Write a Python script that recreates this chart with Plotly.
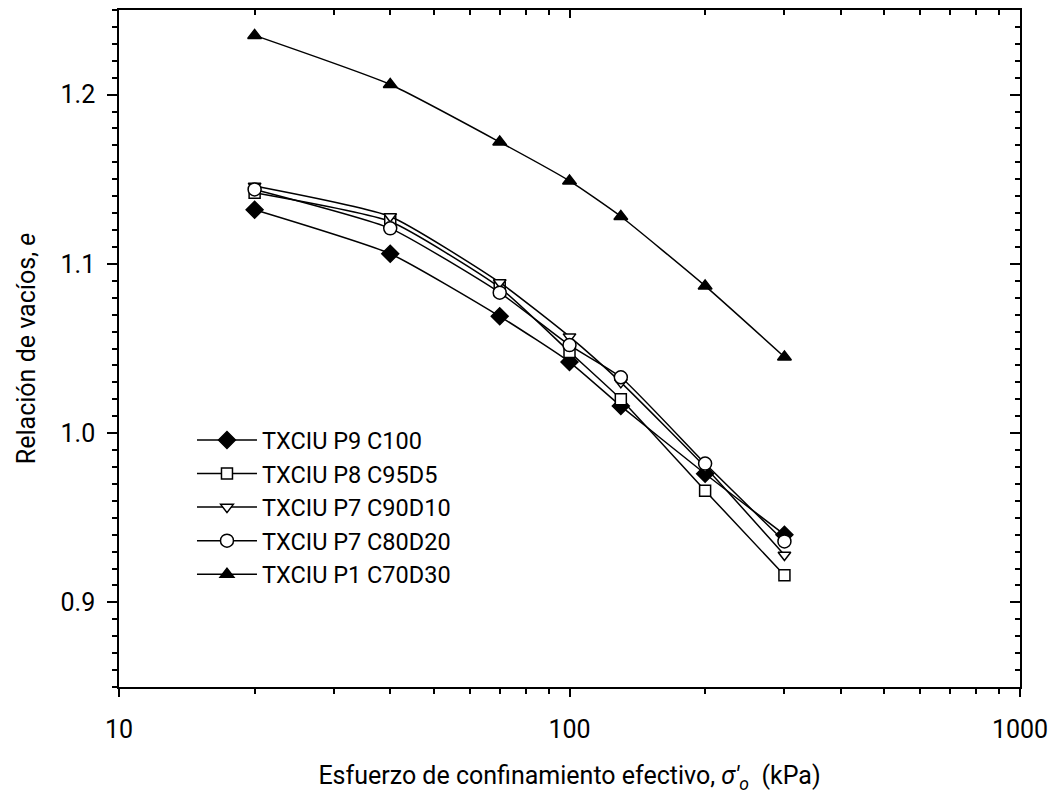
import plotly.graph_objects as go

# Data
stress_kpa = [20, 40, 70, 100, 130, 200, 300]
e_c100 = [1.132, 1.106, 1.069, 1.042, 1.016, 0.976, 0.940]
e_c95d5 = [1.142, 1.125, 1.086, 1.048, 1.020, 0.966, 0.916]
e_c90d10 = [1.146, 1.128, 1.089, 1.057, 1.030, 0.980, 0.928]
e_c80d20 = [1.144, 1.121, 1.083, 1.052, 1.033, 0.982, 0.936]
e_c70d30 = [1.235, 1.206, 1.172, 1.149, 1.128, 1.087, 1.045]

series_names = ["TXCIU P9 C100", "TXCIU P8 C95D5", "TXCIU P7 C90D10",
                "TXCIU P7 C80D20", "TXCIU P1 C70D30"]
series_values = [e_c100, e_c95d5, e_c90d10, e_c80d20, e_c70d30]
marker_symbols = ["diamond", "square", "triangle-down", "circle", "triangle-up"]
marker_fills = ["black", "white", "white", "white", "black"]
marker_sizes = [13, 11, 11, 13, 12]

x_major = [10, 100, 1000]
x_minor = [20, 30, 40, 50, 60, 70, 80, 90, 200, 300, 400, 500, 600, 700, 800, 900]
y_major = [0.9, 1.0, 1.1, 1.2]

FONT = "Roboto"
FS = 25
fig = go.Figure()

for name, vals, sym, fill, sz in zip(series_names, series_values, marker_symbols,
                                     marker_fills, marker_sizes):
    fig.add_trace(go.Scatter(
        x=stress_kpa, y=vals, name=name, mode="lines+markers",
        line=dict(color="black", width=1.5, shape="spline", smoothing=0.5),
        marker=dict(symbol=sym, size=sz, color=fill,
                    line=dict(color="black", width=1.5)),
    ))

# dummy trace for mirrored axes (inside ticks on top / right)
fig.add_trace(go.Scatter(x=[None], y=[None], xaxis="x2", yaxis="y2",
                         showlegend=False, hoverinfo="skip"))

xr = [1, 3]
yr = [0.85, 1.25]

fig.update_layout(
    width=1054, height=799,
    margin=dict(l=119, r=34, t=10, b=112),
    paper_bgcolor="white", plot_bgcolor="white",
    font=dict(family=FONT, size=FS, color="black"),
    showlegend=True,
    legend=dict(x=0.081, y=0.397, xanchor="left", yanchor="top",
                bgcolor="rgba(0,0,0,0)", borderwidth=0,
                font=dict(family=FONT, size=23.5, color="black"),
                itemwidth=60, tracegroupgap=0),
    xaxis=dict(
        type="log", range=xr, showgrid=False, zeroline=False, automargin=False,
        showline=True, linecolor="black", linewidth=1.5, mirror=True,
        ticks="outside", ticklen=8, tickwidth=1.5, tickcolor="black",
        tickvals=x_major, ticktext=[str(v) for v in x_major],
        tickfont=dict(family=FONT, size=FS), ticklabelstandoff=11,
        minor=dict(tickvals=x_minor, ticks="outside", ticklen=5,
                   tickwidth=1.5, tickcolor="black", showgrid=False),
        title=dict(text="Esfuerzo de confinamiento efectivo, <i>σ'</i><sub><i>o</i></sub>\u00a0\u00a0(kPa)",
                   font=dict(family=FONT, size=FS), standoff=24),
    ),
    yaxis=dict(
        range=yr, showgrid=False, zeroline=False, automargin=False,
        showline=True, linecolor="black", linewidth=1.5, mirror=True,
        ticks="outside", ticklen=10, tickwidth=1.5, tickcolor="black",
        tickvals=y_major, ticktext=[f"{v:.1f}" for v in y_major],
        tickfont=dict(family=FONT, size=FS), ticklabelstandoff=7,
        minor=dict(dtick=0.01, ticks="outside", ticklen=5,
                   tickwidth=1.5, tickcolor="black", showgrid=False),
        title=dict(text="Relación de vacíos, <i>e</i>",
                   font=dict(family=FONT, size=FS), standoff=18),
    ),
    xaxis2=dict(
        type="log", range=xr, overlaying="x", side="top", anchor="y",
        automargin=False,
        showgrid=False, zeroline=False, showline=False, showticklabels=False,
        ticks="inside", ticklen=8, tickwidth=1.5, tickcolor="black",
        tickvals=x_major,
        minor=dict(tickvals=x_minor, ticks="inside", ticklen=5,
                   tickwidth=1.5, tickcolor="black", showgrid=False),
    ),
    yaxis2=dict(
        range=yr, overlaying="y", side="right", anchor="x",
        automargin=False,
        showgrid=False, zeroline=False, showline=False, showticklabels=False,
        ticks="inside", ticklen=10, tickwidth=1.5, tickcolor="black",
        tickvals=y_major,
        minor=dict(dtick=0.01, ticks="inside", ticklen=5,
                   tickwidth=1.5, tickcolor="black", showgrid=False),
    ),
)

fig.write_html("out.html", config={"displayModeBar": False},
               post_script="document.body.style.margin='0';document.body.style.overflow='hidden';")
